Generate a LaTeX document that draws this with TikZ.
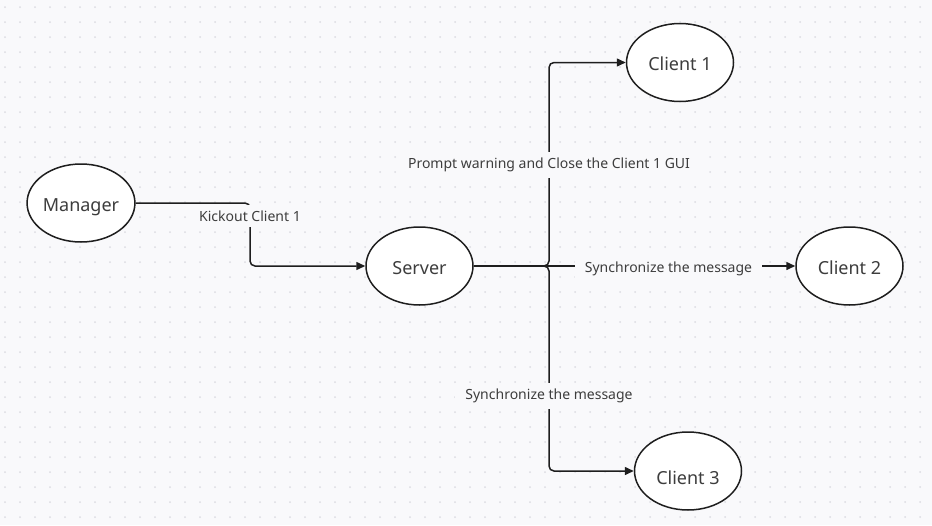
\documentclass[tikz,border=0pt]{standalone}
\usepackage{fontspec}
\setmainfont{Noto Sans}
\usetikzlibrary{positioning,shapes.geometric,arrows.meta}

\definecolor{canvas}{HTML}{F9F9FB}
\definecolor{griddot}{HTML}{DCDCE2}
\definecolor{ink}{HTML}{1E1E1E}
\definecolor{txt}{HTML}{3D3D3D}

\tikzset{
  actor/.style={ellipse, draw=ink, line width=1.5pt, fill=white, minimum width=107pt,
    minimum height=78pt, inner sep=0pt, text=txt, text height=18pt, text depth=2pt,
    font=\fontsize{18}{21}\selectfont},
  msg/.style={fill=canvas, text=txt, font=\fontsize{14}{16}\selectfont,
    inner xsep=10pt, inner ysep=6pt},
  wire/.style={draw=ink, line width=1.5pt, rounded corners=5pt},
  flow/.style={-{Triangle[length=9pt,width=8pt]}}
}

\begin{document}
\begin{tikzpicture}[x=1pt,y=-1pt]
  \useasboundingbox[fill=canvas] (0,0) rectangle (932,525);
  \foreach \gx in {5,20,...,930}
    \foreach \gy in {7,22,...,525}
      \fill[griddot] (\gx,\gy) circle (1pt);

  \node[actor] (manager) at (81,203) {Manager};
  \node[actor] (server) at (419.5,266) {Server};
  \node[actor] (client1) at (680,62.5) {Client 1};
  \node[actor] (client2) at (849.5,266) {Client 2};
  \node[actor, label={[text=txt, font=\fontsize{18}{21}\selectfont, yshift=-7pt]center:Client 3}]
    (client3) at (688,471) {};

  \coordinate (kick) at (250,216);
  \coordinate (warn) at (549,165);
  \coordinate (sync2) at (668.5,269);
  \coordinate (sync3) at (549,396);

  \draw[wire,flow] (manager.east) -| (kick) |- (server.west);
  \draw[wire,flow] (server.east) -| (warn) |- (client1.west);
  \draw[wire,flow] (server.east) -- (client2.west);
  \draw[wire,flow] (server.east) -| (sync3) |- (client3.west);

  \node[msg] (kicklabel) at (kick) {Kickout Client 1};
  \node[msg] (warnlabel) at (warn) {Prompt warning and Close the Client 1 GUI};
  \node[msg] (sync2label) at (sync2) {Synchronize the message};
  \node[msg] (sync3label) at (sync3) {Synchronize the message};
\end{tikzpicture}
\end{document}
